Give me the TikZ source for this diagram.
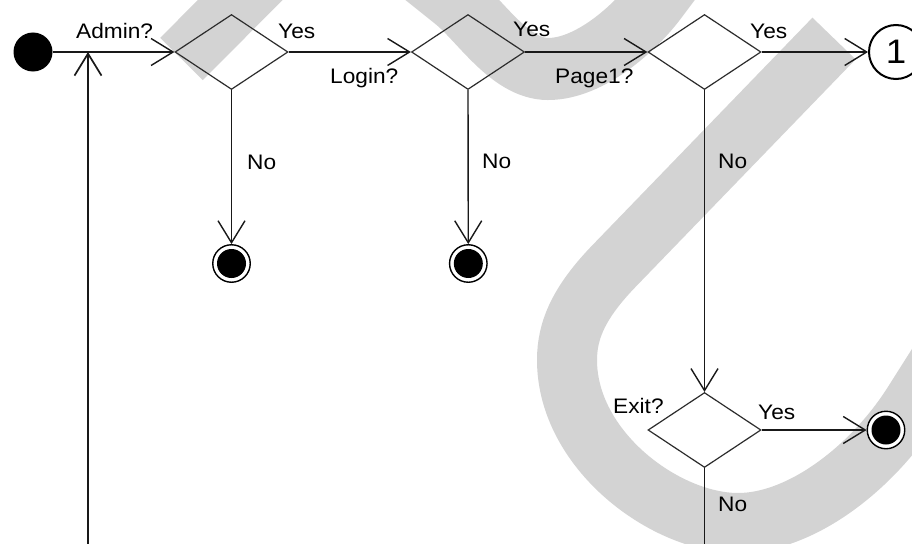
\documentclass[tikz,border=0pt]{standalone}
\usepackage{fontspec}
\setmainfont{Liberation Sans}[FakeStretch=1.08]
\usetikzlibrary{shapes.geometric,arrows.meta}
\definecolor{wmgray}{RGB}{211,211,211}
\definecolor{ink}{RGB}{25,25,25}
\definecolor{edge}{RGB}{45,45,45}
\begin{document}
\begin{tikzpicture}[x=1pt,y=-1pt,
  decision/.style={diamond, draw=edge, line width=1.2pt, minimum width=113pt,
    minimum height=75pt, inner sep=0pt},
  startdot/.style={circle, fill=black, minimum size=39pt, inner sep=0pt},
  enddot/.style={circle, draw=black, line width=1.4pt, fill=white,
    minimum size=37.5pt, inner sep=0pt,
    path picture={\fill[black] (path picture bounding box.center) circle (14.5pt);}},
  pageref/.style={circle, draw=black, line width=2pt, fill=white,
    minimum size=54pt, inner sep=0pt, font=\fontsize{34}{38}\selectfont},
  flowline/.style={draw=ink, line width=1.4pt},
  flow/.style={flowline, -{Straight Barb[length=22pt,width=27pt]}},
  lbl/.style={anchor=base west, inner sep=0pt, font=\fontsize{21}{24}\selectfont},
  swoosh/.style={draw=wmgray, line width=60pt, line cap=butt}
]
\fill[white] (0,0) rectangle (912,543);
\useasboundingbox (0,0) rectangle (912,543);
\clip (0,0) rectangle (912,543);

% light grey brush strokes in the background
\draw[swoosh] (181.5,59) -- (300,-60);
\draw[swoosh, line width=62pt] (390,-52) -- (455,0)
  .. controls (480,20) and (510,69) .. (548,69)
  .. controls (590,69) and (635,28) .. (656,0) -- (680,-32);
\draw[swoosh] (834,38.5) -- (615,265)
  .. controls (579,302) and (567,330) .. (567,360)
  .. controls (567,450) and (665,523) .. (738,523)
  .. controls (800,523) and (870,470) .. (912,405) -- (950,345);

% states and decisions
\node[startdot] (start) at (33,52) {};
\node[decision] (admin) at (231.5,52) {};
\node[decision] (login) at (468,52) {};
\node[decision] (page) at (704.5,52) {};
\node[decision] (exit) at (704.5,430) {};
\node[pageref] (cont) at (896,52) {1};
\node[enddot] (endA) at (231.5,263.5) {};
\node[enddot] (endB) at (468.3,263.5) {};
\node[enddot] (endC) at (886,430) {};
\coordinate (loopfoot) at (88,570);
\coordinate (loopjoin) at (88,52);
\coordinate (exitfoot) at (704.5,570);

% transitions
\draw[flow] (start) -- (admin.west);
\draw[flow, line width=1.7pt] (loopfoot) -- (loopjoin);
\draw[flow] (admin.east) -- (login.west);
\draw[flow] (login.east) -- (page.west);
\draw[flow] (page.east) -- (cont);
\draw[flow] (admin.south) -- (endA);
\draw[flow] (login.south) -- (endB);
\draw[flow] (page.south) -- (exit.north);
\draw[flow] (exit.east) -- (endC);
\draw[flowline] (exit.south) -- (exitfoot);

% guards and answers
\node[lbl] (qadmin) at (76,39) {Admin?};
\node[lbl] (yadmin) at (278,39) {Yes};
\node[lbl] (nadmin) at (247,169) {No};
\node[lbl] (qlogin) at (330,83) {Login?};
\node[lbl] (ylogin) at (513,37) {Yes};
\node[lbl] (nlogin) at (482,168) {No};
\node[lbl] (qpage) at (555,83) {Page1?};
\node[lbl] (ypage) at (750,39) {Yes};
\node[lbl] (npage) at (718,168) {No};
\node[lbl] (qexit) at (613,413) {Exit?};
\node[lbl] (yexit) at (758,419) {Yes};
\node[lbl] (nexit) at (718,511) {No};
\end{tikzpicture}
\end{document}
